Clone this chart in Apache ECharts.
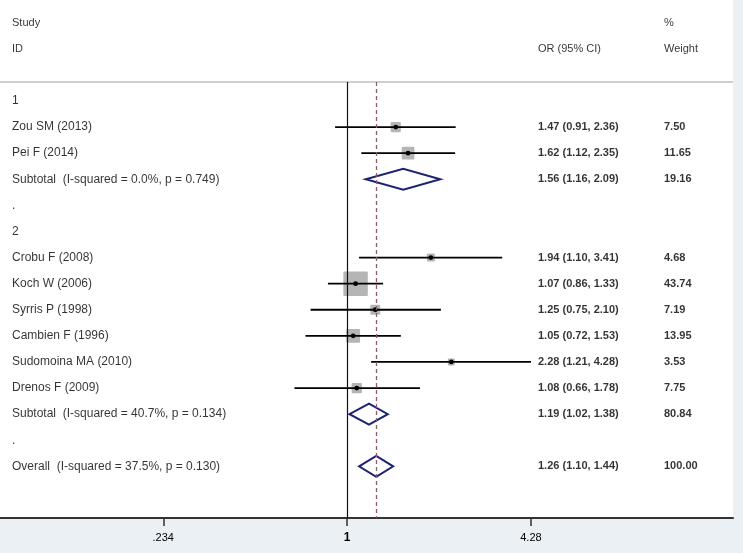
<!DOCTYPE html>
<html>
<head>
<meta charset="utf-8">
<script src="https://cdn.jsdelivr.net/npm/echarts@6/dist/echarts.min.js"></script>
<style>
  html, body { margin: 0; padding: 0; background: #eaf0f3; }
  #main { width: 743px; height: 553px; }
</style>
</head>
<body>
<div id="main"></div>
<script>
// rows of the forest plot, top to bottom (row index = array index)
var rowLabels = ['1', 'Zou SM (2013)', 'Pei F (2014)', 'Subtotal  (I-squared = 0.0%, p = 0.749)', '.',
  '2', 'Crobu F (2008)', 'Koch W (2006)', 'Syrris P (1998)', 'Cambien F (1996)', 'Sudomoina MA (2010)',
  'Drenos F (2009)', 'Subtotal  (I-squared = 40.7%, p = 0.134)', '.', 'Overall  (I-squared = 37.5%, p = 0.130)'];
var rowKind = ['group', 'study', 'study', 'pooled', 'blank', 'group', 'study', 'study', 'study', 'study',
  'study', 'study', 'pooled', 'blank', 'pooled'];
var orValues = [null, 1.47, 1.62, 1.56, null, null, 1.94, 1.07, 1.25, 1.05, 2.28, 1.08, 1.19, null, 1.26];
var ciLower  = [null, 0.91, 1.12, 1.16, null, null, 1.10, 0.86, 0.75, 0.72, 1.21, 0.66, 1.02, null, 1.10];
var ciUpper  = [null, 2.36, 2.35, 2.09, null, null, 3.41, 1.33, 2.10, 1.53, 4.28, 1.78, 1.38, null, 1.44];
var weights  = [null, 7.50, 11.65, 19.16, null, null, 4.68, 43.74, 7.19, 13.95, 3.53, 7.75, 80.84, null, 100.00];

var tickValues = [0.234, 1, 4.28];
var tickLabels = ['.234', '1', '4.28'];
var overallOR = 1.26;

var chart = echarts.init(document.getElementById('main'));

// study rows and pooled rows for the custom series
var studyData = [], pooledData = [], nameText = [], ciText = [], wText = [];
rowLabels.forEach(function (lab, i) {
  nameText.push([12, i, lab]);
  if (orValues[i] != null) {
    var item = [i, Math.log(ciLower[i]), Math.log(orValues[i]), Math.log(ciUpper[i]), weights[i]];
    if (rowKind[i] === 'study') studyData.push(item); else pooledData.push(item);
    ciText.push([538, i, orValues[i].toFixed(2) + ' (' + ciLower[i].toFixed(2) + ', ' + ciUpper[i].toFixed(2) + ')']);
    wText.push([664, i, weights[i].toFixed(2)]);
  }
});
var headers = [[12, -3, 'Study'], [664, -3, '%'], [12, -2, 'ID'], [538, -2, 'OR (95% CI)'], [664, -2, 'Weight']];

var lineTop = -0.73;
var font = 'Liberation Sans, Arial, sans-serif';

function textSeries(data, bold, size) {
  return {
    type: 'scatter', xAxisIndex: 1, yAxisIndex: 0, symbolSize: 0, silent: true,
    data: data,
    label: {
      show: true, position: 'right', distance: 0,
      formatter: function (p) { return p.data[2]; },
      color: '#000', fontFamily: font, fontSize: size, fontWeight: bold ? 'bold' : 'normal'
    }
  };
}

chart.setOption({
  backgroundColor: '#eaf0f3',
  animation: false,
  grid: { left: 0, right: 10, top: 0, bottom: 35, show: true, backgroundColor: '#fff', borderWidth: 0 },
  xAxis: [
    {
      type: 'value', min: -2.743, max: 3.051, position: 'bottom',
      axisLine: { onZero: false, lineStyle: { color: '#333', width: 2 } },
      axisTick: { customValues: tickValues.map(Math.log), length: 8, lineStyle: { color: '#333', width: 1.5 } },
      axisLabel: {
        customValues: tickValues.map(Math.log), margin: 14,
        fontFamily: font, fontSize: 11, color: '#000',
        formatter: function (v) {
          for (var k = 0; k < tickValues.length; k++) {
            if (Math.abs(Math.log(tickValues[k]) - v) < 1e-6) {
              return tickValues[k] === 1 ? '{b|' + tickLabels[k] + '}' : tickLabels[k];
            }
          }
          return '';
        },
        rich: { b: { fontWeight: 'bold', fontSize: 12, fontFamily: font, color: '#000' } }
      },
      splitLine: { show: false }
    },
    { type: 'value', min: 0, max: 733, show: false }
  ],
  yAxis: [{ type: 'value', min: -3.87, max: 15.98, inverse: true, show: false }],
  series: [
    {
      type: 'custom', xAxisIndex: 0, yAxisIndex: 0, silent: true,
      encode: { x: [1, 2, 3], y: 0 },
      data: studyData,
      markLine: {
        symbol: 'none', silent: true, label: { show: false },
        data: [
          [{ coord: [-2.743, lineTop], lineStyle: { color: '#cfcfcf', width: 2, type: 'solid' } }, { coord: [3.051, lineTop] }],
          [{ coord: [0, lineTop], lineStyle: { color: '#111', width: 1.2, type: 'solid' } }, { coord: [0, 15.98] }],
          [{ coord: [Math.log(overallOR), lineTop], lineStyle: { color: '#8e5a6c', width: 1.3, type: [4, 3] } }, { coord: [Math.log(overallOR), 15.98] }]
        ]
      },
      renderItem: function (params, api) {
        var r = api.value(0);
        var pLo = api.coord([api.value(1), r]);
        var pEst = api.coord([api.value(2), r]);
        var pHi = api.coord([api.value(3), r]);
        var side = 3.7 * Math.sqrt(api.value(4));
        return {
          type: 'group',
          children: [
            { type: 'rect', shape: { x: pEst[0] - side / 2, y: pEst[1] - side / 2, width: side, height: side, r: 1 },
              style: { fill: '#b5b5b5' } },
            { type: 'line', shape: { x1: pLo[0], y1: pLo[1], x2: pHi[0], y2: pHi[1] },
              style: { stroke: '#000', lineWidth: 1.8 } },
            { type: 'circle', shape: { cx: pEst[0], cy: pEst[1], r: 2.4 }, style: { fill: '#000' } }
          ]
        };
      }
    },
    {
      type: 'custom', xAxisIndex: 0, yAxisIndex: 0, silent: true,
      encode: { x: [1, 2, 3], y: 0 },
      data: pooledData,
      renderItem: function (params, api) {
        var r = api.value(0);
        var pLo = api.coord([api.value(1), r]);
        var pTop = api.coord([api.value(2), r - 0.4]);
        var pBot = api.coord([api.value(2), r + 0.4]);
        var pHi = api.coord([api.value(3), r]);
        return {
          type: 'polygon',
          shape: { points: [pLo, pTop, pHi, pBot] },
          style: { fill: '#fff', stroke: '#1c2470', lineWidth: 2 }
        };
      }
    },
    textSeries(headers, false, 11),
    textSeries(nameText, false, 12),
    textSeries(ciText, true, 11),
    textSeries(wText, true, 11)
  ]
});
</script>
</body>
</html>
